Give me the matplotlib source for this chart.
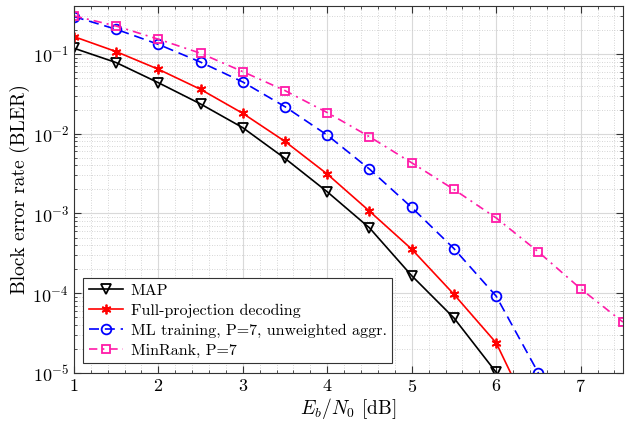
import numpy as np
import matplotlib
matplotlib.use("Agg")
import matplotlib.pyplot as plt
from matplotlib.ticker import MultipleLocator, LogLocator, NullFormatter

plt.rcParams['font.family'] = 'serif'
plt.rcParams['font.serif'] = ['cmr10']
plt.rcParams['mathtext.fontset'] = 'cm'
plt.rcParams['axes.formatter.use_mathtext'] = True

snr = [1, 1.5, 2, 2.5, 3, 3.5, 4, 4.5, 5, 5.5, 6, 6.5, 7, 7.5]

# BLER
bler_map = [0.118, 0.078, 0.0436, 0.0236, 0.0119, 0.0049, 0.00187, 6.6e-4, 1.66e-4, 4.9e-5, 1.02e-5]
bler_fp = [0.165, 0.107, 0.0643, 0.036, 0.018, 0.008, 0.00312, 1.07e-3, 3.57e-4, 9.7e-5, 2.39e-5, 1.9e-6]
bler_ml = [0.294, 0.204, 0.132, 0.079, 0.0445, 0.0218, 0.0096, 0.0036, 0.00119, 3.63e-4, 9.2e-5, 1.0e-5]
bler_mr = [0.30, 0.224, 0.153, 0.102, 0.060, 0.0347, 0.0184, 0.00917, 0.00432, 0.0020, 8.8e-4, 3.3e-4, 1.14e-4, 4.36e-5]

labels = ["MAP", "Full-projection decoding", "ML training, P=7, unweighted aggr.", "MinRank, P=7"]

fig = plt.figure(figsize=(6.26, 4.22), dpi=100)
ax = fig.add_axes([0.118, 0.116, 0.877, 0.870])

lw = 1.2
ax.semilogy(snr[:len(bler_map)], bler_map, '-', color='black', lw=lw,
            marker='v', ms=7.5, mfc='none', mew=1.3, label=labels[0])
ax.semilogy(snr[:len(bler_fp)], bler_fp, '-', color='red', lw=lw,
            marker=(6, 2, 0), ms=7, mew=1.3, label=labels[1])
ax.semilogy(snr[:len(bler_ml)], bler_ml, color='blue', lw=lw, dashes=(6, 3.5),
            marker='o', ms=7, mfc='none', mew=1.3, label=labels[2])
ax.semilogy(snr[:len(bler_mr)], bler_mr, color='#ff1aa8', lw=lw, dashes=(5, 3, 1.2, 3),
            marker='s', ms=5.5, mfc='none', mew=1.3, label=labels[3])

ax.set_xlim(1, 7.5)
ax.set_ylim(1e-5, 0.4)
ax.xaxis.set_major_locator(MultipleLocator(1))
ax.xaxis.set_minor_locator(MultipleLocator(0.2))
ax.yaxis.set_major_locator(LogLocator(base=10, numticks=10))
ax.yaxis.set_minor_locator(LogLocator(base=10, subs=np.arange(2, 10), numticks=10))
ax.yaxis.set_minor_formatter(NullFormatter())

ax.grid(True, which='major', color='#d9d9d9', lw=0.8)
ax.grid(True, which='minor', color='#c8c8c8', lw=0.6, ls=(0, (1, 2)))
ax.set_axisbelow(True)
ax.tick_params(which='both', direction='in', top=True, right=True, labelsize=13, color='#333333')
ax.tick_params(which='major', length=5)
ax.tick_params(which='minor', length=2.5)
for s in ax.spines.values():
    s.set_color('#333333')

ax.set_xlabel(r'$E_b/N_0$ [dB]', fontsize=14, labelpad=1)
ax.set_ylabel('Block error rate (BLER)', fontsize=14, labelpad=2)

leg = ax.legend(loc='lower left', fontsize=11.5, fancybox=False, edgecolor='#333333',
                framealpha=1, borderpad=0.35, labelspacing=0.36, handlelength=2.1,
                handletextpad=0.5, borderaxespad=0.6)
leg.get_frame().set_linewidth(0.8)

fig.savefig('out.png', dpi=100)
